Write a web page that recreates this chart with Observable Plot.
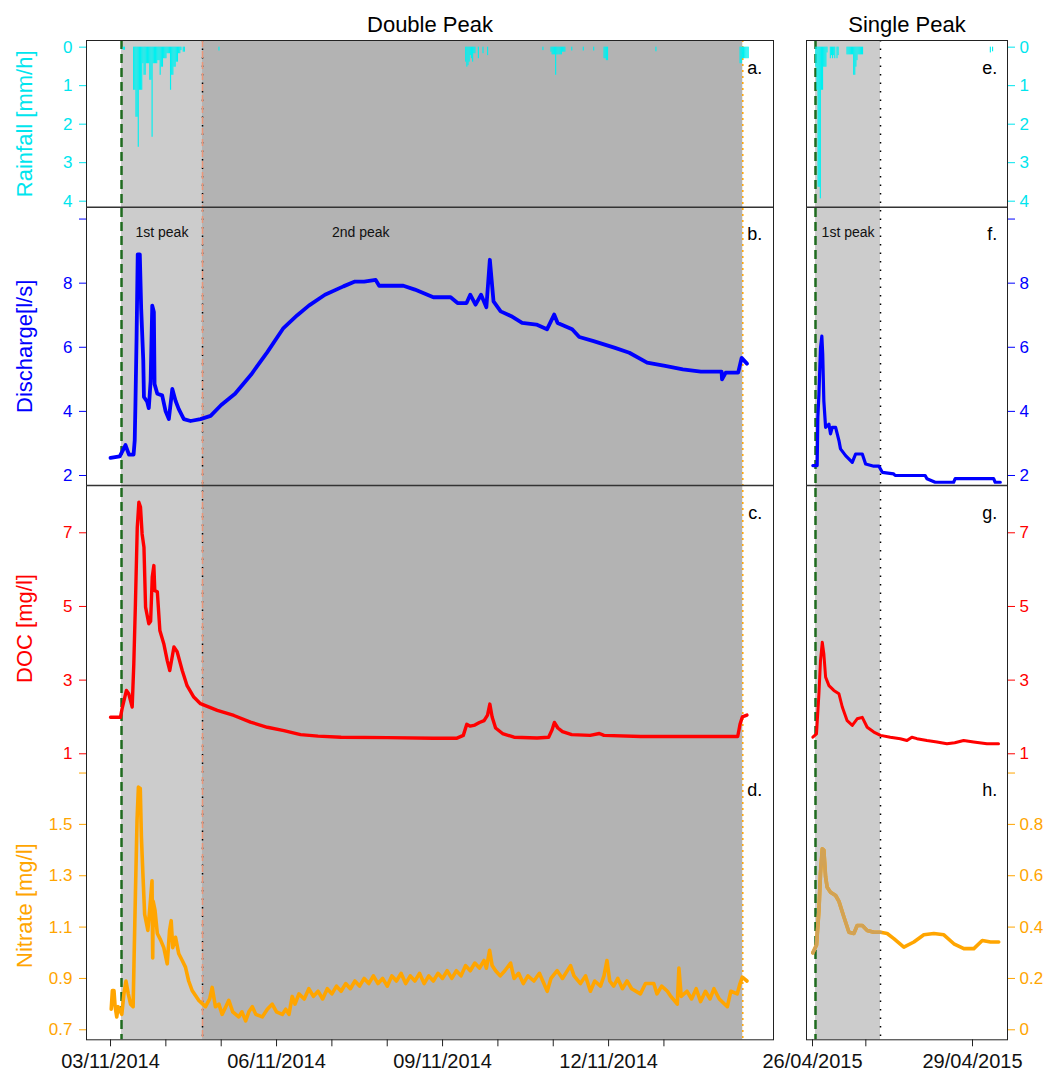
<!DOCTYPE html>
<html><head><meta charset="utf-8">
<script src="https://cdn.jsdelivr.net/npm/d3@7"></script>
<script src="https://cdn.jsdelivr.net/npm/@observablehq/plot@0.6"></script>
<style>
html,body{margin:0;padding:0;background:#fff;overflow:hidden;}
#chart{position:relative;width:1052px;height:1073px;}
#chart svg{position:absolute;left:0;top:0;}
</style></head><body><div id="chart"></div><script>
// ================= DATA =================
// times are hours since the start of each event
const dpStart = "2014-11-03T00:00:00Z";
const spStart = "2015-04-26T00:00:00Z";

// rainfall [mm/h], half-hour bins: [hour, value]
const dpRain = [[5.5,0.08],[6,0.08],
 [10,1.12],[10.5,1.12],[11,1.82],[11.5,1.82],[12,2.6],[12.5,1.12],[13,1.12],[13.5,1.12],[14,0.43],[14.5,0.73],
 [15,0.73],[15.5,0.43],[16,0.43],[16.5,0.43],[17,0.86],[17.5,0.86],[18,2.34],[18.5,0.43],[19,0.43],[19.5,0.43],
 [20,0.43],[20.5,0.35],[21,0.35],[21.5,0.73],[22,0.52],[22.5,0.52],[23,0.3],[23.5,0.3],[24,0.3],[24.5,0.17],
 [25,0.17],[25.5,0.17],[26,1.12],[26.5,0.73],[27,0.73],[27.5,0.52],[28,0.52],[28.5,0.39],[29,0.39],[29.5,0.17],
 [30,0.17],[30.5,0.09],[31.5,0.13],[32,0.13],[47,0.1],
 [154,0.39],[154.5,0.52],[155,0.48],[155.5,0.39],[156,0.22],[156.5,0.3],[157,0.39],[157.5,0.17],[158,0.17],
 [159.5,0.3],[161.5,0.17],[163.5,0.22],[187.5,0.09],
 [191,0.13],[191.5,0.2],[192,0.2],[192.5,0.2],[193,0.73],[193.5,0.2],[194,0.2],[194.5,0.2],[195,0.2],[195.5,0.2],
 [196,0.13],[196.5,0.13],[197,0.13],[200,0.1],[205,0.1],[209.5,0.1],[214,0.3],[214.5,0.3],[215,0.35],[215.5,0.35],
 [236.5,0.12],[273,0.43],[273.5,0.43],[274,0.3],[274.5,0.3],[275,0.3],[275.5,0.3],[276,0.3],[276.5,0.3]];
const spRain = [[1.5,0.52],[2,1.12],[2.5,3.64],[3,3.64],[3.5,3.94],[4,1.12],[4.5,1.12],[5,0.52],[5.5,0.52],[6,0.52],[6.5,0.15],
 [8,0.3],[8.5,0.22],[9,0.3],[9.5,0.22],[10,0.3],[11,0.3],[11.5,0.22],
 [15.5,0.2],[16,0.2],[16.5,0.2],[17,0.2],[17.5,0.2],[18,0.2],[18.5,0.73],[19,0.73],[19.5,0.52],[20,0.35],
 [20.5,0.2],[21,0.2],[21.5,0.2],[22,0.2],[22.5,0.2],[80,0.15],[81,0.12]];

// discharge [l/s]: [hour, value]
const dpDischarge = [[0,2.55],[4,2.6],[6.5,2.95],[8,2.65],[10,2.65],[10.5,3.1],[10.8,4.2],[11.3,6.3],[11.8,8.9],
 [12.7,8.9],[13.3,7.2],[14.2,5.6],[14.5,4.45],[15.9,4.3],[16.6,4.1],[17.4,4.95],[18.1,7.3],[18.8,7.1],[19.1,4.85],
 [20.3,4.55],[22.4,4.5],[23.9,4.0],[25.3,3.76],[26.8,4.7],[28.2,4.33],[29.6,4.07],[31.8,3.76],[34.7,3.7],[39,3.76],
 [43.4,3.86],[48,4.2],[54,4.55],[61,5.15],[68,5.85],[75,6.6],[81,7.0],[86,7.3],[93,7.64],[101,7.9],[106,8.05],
 [110,8.05],[115,8.1],[116.5,7.92],[127,7.92],[132,7.8],[140,7.56],[147.5,7.56],[150.5,7.38],[154.4,7.38],
 [156,7.64],[158.3,7.33],[160.7,7.64],[163,7.25],[164.5,8.73],[166.1,7.43],[169.2,7.12],[173.8,6.97],[178.5,6.76],
 [184.7,6.71],[189.3,6.56],[192.4,7.02],[193.9,6.76],[200.2,6.56],[203.3,6.32],[209.5,6.19],[218.8,5.98],
 [225,5.83],[232.7,5.52],[240.5,5.42],[248.2,5.31],[256,5.24],[265,5.24],[265.2,5.0],[266.8,5.21],[272.2,5.21],
 [273.7,5.67],[276,5.49]];
const spDischarge = [[0.15,2.31],[2.1,2.31],[2.4,3.81],[2.9,4.54],[3.6,5.98],[4.2,6.35],[4.6,5.78],[5.1,4.33],
 [5.9,3.5],[7.4,3.6],[8.1,3.3],[8.9,3.5],[10.4,3.5],[11.9,3.09],[12.6,2.83],[14.9,2.62],[17.9,2.41],[19.4,2.67],
 [22.4,2.67],[23.9,2.36],[27.6,2.29],[29.9,2.29],[31.4,2.1],[36.5,2.05],[37.2,2.0],[50.7,2.0],[51.5,1.9],
 [55.2,1.79],[63.5,1.79],[64.2,1.9],[81.5,1.9],[82.2,1.79],[84.5,1.79]];

// DOC [mg/l]
const dpDOC = [[0,1.99],[4.3,1.99],[5,2.22],[6.9,2.72],[7.9,2.63],[9.4,2.27],[10.1,3.44],[10.8,5.07],[11.6,7.15],
 [12.3,7.83],[13,7.7],[13.7,6.97],[14.5,6.61],[15.2,4.98],[16.6,4.53],[17.4,4.6],[18.1,5.8],[18.8,6.11],[19.2,5.43],
 [20.3,5.4],[21.4,4.35],[23.1,3.99],[24.6,3.53],[25.7,3.26],[27.5,3.9],[28.9,3.77],[31.1,3.26],[33.2,2.85],
 [36.1,2.54],[39,2.36],[46.3,2.18],[53.5,2.04],[60.7,1.86],[68,1.72],[75.2,1.63],[82.4,1.52],[90,1.48],[100,1.45],
 [120,1.44],[140,1.42],[150,1.42],[153,1.5],[154.5,1.8],[156,1.75],[158,1.78],[160,1.85],[162,1.9],[163.5,2.05],
 [164.5,2.35],[165.5,2.0],[167,1.7],[170,1.55],[175,1.45],[185,1.43],[190,1.45],[191.5,1.65],[192.5,1.85],
 [194,1.7],[196,1.6],[200,1.52],[208,1.5],[212,1.55],[214,1.5],[230,1.47],[250,1.47],[272,1.47],[273,1.8],
 [274,2.0],[276,2.05]];
const spDOC = [[0.15,1.45],[1.8,1.54],[2.9,2.63],[3.6,3.53],[4.4,4.03],[5.1,3.72],[5.9,3.08],[7.4,2.85],[9.6,2.72],
 [11.9,2.63],[13.4,2.27],[15.6,1.9],[17.9,1.77],[20.1,1.95],[22.4,1.99],[24.6,1.72],[27.6,1.59],[30.6,1.5],
 [35,1.45],[39.5,1.41],[42.5,1.36],[44.7,1.45],[47,1.41],[51.5,1.36],[56,1.32],[60.5,1.27],[64,1.3],[68,1.36],
 [72.5,1.32],[78.5,1.27],[83.7,1.27]];

// Nitrate [mg/l]
const dpNitrate = [[0.3,0.78],[0.8,0.853],[1.5,0.853],[2,0.79],[2.7,0.75],[3.3,0.79],[4.9,0.76],[5.8,0.84],
 [6.7,0.89],[7.7,0.84],[8.7,0.8],[9.8,0.79],[10.2,0.97],[10.8,1.23],[11.5,1.515],[12.1,1.645],[12.9,1.64],
 [13.4,1.45],[14.1,1.295],[14.8,1.15],[16.2,1.087],[17.1,1.18],[18,1.28],[18.3,0.98],[18.5,1.2],[19.3,1.165],
 [20.3,1.075],[21.7,1.05],[23.1,1.02],[24.6,0.957],[25.6,1.087],[26.3,1.125],[27,1.02],[28.2,1.06],[29.6,0.996],
 [31.1,0.97],[32.5,0.944],[33.9,0.89],[35.4,0.853],[38.3,0.814],[40,0.8],[41.2,0.79],[43,0.82],[44.1,0.865],
 [45.5,0.79],[47,0.8],[48.4,0.76],[50,0.79],[51.3,0.815],[53,0.77],[55.6,0.75],[57,0.77],[58.6,0.735],[60,0.77],
 [61.5,0.79],[63,0.76],[65.8,0.75],[68,0.78],[70.1,0.8],[72,0.77],[74.5,0.76],[76,0.78],[77.4,0.76],[78.8,0.83],
 [80,0.8],[81.7,0.84],[84,0.82],[86,0.86],[88,0.83],[90,0.85],[92,0.82],[94,0.86],[96,0.84],[98,0.87],[100,0.85],
 [102,0.88],[104,0.86],[106,0.89],[108,0.87],[110,0.9],[112,0.88],[114,0.91],[116,0.88],[118,0.9],[120,0.87],
 [122,0.91],[124,0.89],[126,0.92],[128,0.88],[130,0.91],[132,0.89],[134,0.92],[136,0.88],[138,0.91],[140,0.89],
 [142,0.92],[144,0.9],[146,0.93],[148,0.9],[150,0.93],[152,0.91],[154,0.95],[156,0.93],[158,0.96],[160,0.94],
 [162,0.97],[163,0.94],[164.4,1.01],[165.5,0.95],[167,0.93],[169,0.91],[171,0.93],[173.5,0.96],[175,0.9],
 [177,0.92],[179,0.88],[181,0.91],[183.6,0.89],[186,0.92],[189.4,0.85],[191,0.9],[193.7,0.93],[196,0.9],
 [199.5,0.95],[201,0.91],[203.8,0.88],[206,0.91],[208.1,0.85],[210,0.89],[212.5,0.87],[214,0.91],[215.3,0.97],
 [216.5,0.89],[218.2,0.87],[220,0.9],[222,0.86],[224,0.89],[226,0.86],[229.8,0.84],[232,0.88],[235.6,0.88],
 [237,0.84],[239,0.87],[241.5,0.85],[243,0.83],[245.8,0.8],[246.5,0.94],[247.5,0.83],[250,0.85],[252,0.82],
 [254,0.86],[255.9,0.81],[258,0.85],[260,0.82],[261.7,0.86],[264,0.82],[267.5,0.79],[269,0.85],[271.8,0.84],
 [273,0.88],[274,0.905],[276,0.89]];
const spNitrate = [[0.15,0.3],[1.8,0.33],[2.9,0.465],[3.6,0.61],[4.4,0.705],[5.1,0.7],[5.9,0.595],[6.6,0.555],
 [8.1,0.536],[10.4,0.523],[11.9,0.5],[14.1,0.44],[16.4,0.38],[18.6,0.375],[20.1,0.406],[22.4,0.406],[24.6,0.387],
 [27.6,0.38],[30.6,0.38],[33.6,0.375],[36.6,0.355],[41.1,0.322],[45.6,0.342],[50.1,0.37],[54.6,0.375],[59.1,0.37],
 [63.6,0.335],[68.1,0.316],[72.6,0.316],[76.4,0.348],[80.1,0.342],[83.8,0.342]];

// event boundaries (hours): rain start, end of 1st peak, end of 2nd peak
const dpEventHours = [4.77, 39.9, 274.2];
const spEventHours = [1.35, 30.6];
const dpPeakLabels = ["1st peak", "2nd peak"];
const dpPeakLabelHours = [22.3, 108.5];
const spPeakLabels = ["1st peak"];
const spPeakLabelHours = [16];

// axis ticks
const dpTickDays = ["2014-11-03","2014-11-04","2014-11-05","2014-11-06","2014-11-07","2014-11-08","2014-11-09",
 "2014-11-10","2014-11-11","2014-11-12","2014-11-13"];
const dpLabeledDays = ["2014-11-03","2014-11-06","2014-11-09","2014-11-12"];
const spTickDays = ["2015-04-26","2015-04-27","2015-04-29"];
const spLabeledDays = ["2015-04-26","2015-04-29"];
const rainTicks = [0,1,2,3,4];
const dischargeTicks = [2,4,6,8,10];
const dischargeTickLabels = [2,4,6,8];
const docTicks = [1,3,5,7];
const dpNitrateTicks = [0.7,0.9,1.1,1.3,1.5,1.7];
const dpNitrateTickLabels = [0.7,0.9,1.1,1.3,1.5];
const spNitrateTicks = [0,0.2,0.4,0.6,0.8,1.0];
const spNitrateTickLabels = [0,0.2,0.4,0.6,0.8];

// ================= DRAWING =================
const W = 1052, H = 1073;
const FONT = "'Liberation Sans', Arial, Helvetica, sans-serif";
const CYAN = "#00E5EE", BLUE = "#0000FF", RED = "#FF0000", ORANGE = "#FFA500", TAN = "#D2A254";
const rows = {a: [40, 206.7], b: [206.7, 485], c: [485, 771], d: [771, 1039.3]};
const yDomains = {
  rain: [4.156, -0.173], q: [1.688, 10.37], doc: [0.519, 8.284],
  no3dp: [0.661, 1.706], no3sp: [-0.039, 1.006]
};
const hourDate = (start, h) => new Date(Date.parse(start) + h * 3600e3);
const series = (start, arr) => arr.map(([h, v]) => ({h, t: hourDate(start, h), v}));
const bins = (start, arr) => arr.map(([h, v]) => ({t1: hourDate(start, h), t2: hourDate(start, h + 0.5), v}));
const dayDate = s => new Date(s + "T00:00:00Z");
const fmtDay = d3.utcFormat("%d/%m/%Y");

const root = document.getElementById("chart");
function add(plot) { root.appendChild(plot); }

function base(col, top, bottom, color, xDomain, yDomain, marks) {
  return Plot.plot({
    width: W, height: H,
    marginLeft: col.left, marginRight: W - col.right, marginTop: top, marginBottom: H - bottom,
    style: {background: "transparent", fontFamily: FONT, fontSize: "17px", color, overflow: "visible"},
    x: {type: "utc", domain: xDomain, axis: null},
    y: yDomain ? {domain: yDomain, axis: null} : undefined,
    marks
  });
}

function drawColumn(cfg) {
  const {col, start, xDays, side, events} = cfg;
  const xDomain = xDays.map(d => hourDate(start, d * 24));
  const ev = events.map(h => hourDate(start, h));
  const left = side === "left";
  const ydx = left ? -61.5 : 0;
  const letterDx = left ? -11.3 : -10.3;

  // background: shaded periods, event lines, frame, title
  const bgMarks = [
    Plot.rect([0], {x1: () => ev[0], x2: () => ev[1], fill: "#cccccc"}),
  ];
  if (ev.length > 2) bgMarks.push(Plot.rect([0], {x1: () => ev[1], x2: () => ev[2], fill: "#b3b3b3"}));
  bgMarks.push(Plot.ruleX([ev[1]], {stroke: "#000", strokeWidth: 1.5, strokeDasharray: "1.5,7"}));
  if (ev.length > 2) {
    bgMarks.push(Plot.ruleX([ev[1]], {stroke: "#E9967A", strokeWidth: 1.5, strokeDasharray: "7,4"}));
    bgMarks.push(Plot.ruleX([ev[2]], {stroke: ORANGE, strokeWidth: 1.5, strokeDasharray: "2,4"}));
  }
  bgMarks.push(Plot.ruleX([ev[0]], {stroke: "#1E6B1E", strokeWidth: 2.5, strokeDasharray: "9,5"}));
  bgMarks.push(Plot.frame({stroke: "#222", strokeWidth: 1}));
  bgMarks.push(Plot.text([cfg.title], {text: d => d, frameAnchor: "top", dy: -8.3, lineAnchor: "bottom", fontSize: 22, fill: "black"}));
  add(base(col, rows.a[0], rows.d[1], "black", xDomain, null, bgMarks));

  const yAxis = (ticks, labels, extra = {}) => Plot.axisY({
    anchor: side, ticks, tickSize: 7, tickPadding: left ? 7 : 5, label: null,
    tickFormat: d => (labels.includes(d) ? String(d) : ""), ...extra
  });
  const yLabel = (text) => left ? [Plot.text([text], {text: d => d, frameAnchor: "left", dx: ydx, rotate: -90,
    textAnchor: "middle", lineAnchor: "middle", fontSize: 22})] : [];
  const letter = (t, dy) => Plot.text([t], {text: d => d, frameAnchor: "top-right", dx: letterDx, dy,
    textAnchor: "end", lineAnchor: "bottom", fontSize: 18, fill: "black"});
  const sep = (dom) => Plot.ruleY([dom[0]], {stroke: "#333", strokeWidth: 1.5});

  // a / e : rainfall
  add(base(col, rows.a[0], rows.a[1], CYAN, xDomain, yDomains.rain, [
    Plot.rect(bins(start, cfg.rain), {x1: "t1", x2: "t2", y1: () => 0, y2: "v", fill: "#00F0F0"}),
    sep(yDomains.rain),
    yAxis(rainTicks, rainTicks),
    ...yLabel("Rainfall [mm/h]"),
    letter(cfg.letters[0], 33)
  ]));

  // b / f : discharge
  add(base(col, rows.b[0], rows.b[1], BLUE, xDomain, yDomains.q, [
    Plot.line(series(start, cfg.q), {x: "t", y: "v", stroke: BLUE, strokeWidth: left ? 3.8 : 3.2, strokeLinejoin: "round"}),
    sep(yDomains.q),
    yAxis(dischargeTicks, dischargeTickLabels),
    ...yLabel("Discharge[l/s]"),
    letter(cfg.letters[1], 32.3),
    Plot.text(cfg.peakLabels.map((s, i) => ({s, t: hourDate(start, cfg.peakHours[i])})),
      {x: "t", text: "s", frameAnchor: "top", dy: 30, lineAnchor: "bottom", fontSize: 14, fill: "#111"})
  ]));

  // c / g : DOC
  add(base(col, rows.c[0], rows.c[1], RED, xDomain, yDomains.doc, [
    Plot.line(series(start, cfg.doc), {x: "t", y: "v", stroke: RED, strokeWidth: left ? 3.4 : 3, strokeLinejoin: "round"}),
    yAxis(docTicks, docTicks),
    ...yLabel("DOC [mg/l]"),
    letter(cfg.letters[2], 33)
  ]));

  // d / h : nitrate
  const no3 = series(start, cfg.no3);
  const no3Marks = [
    Plot.line(no3, {x: "t", y: "v", stroke: ORANGE, strokeWidth: 3.6, strokeLinejoin: "round"})
  ];
  if (!left) no3Marks.push(Plot.line(no3.filter(d => d.h <= events[1]),
    {x: "t", y: "v", stroke: TAN, strokeWidth: 3.6, strokeLinejoin: "round"}));
  const dayTicks = cfg.tickDays.map(dayDate);
  const labeled = new Set(cfg.labeledDays.map(s => +dayDate(s)));
  no3Marks.push(
    yAxis(cfg.no3Ticks, cfg.no3TickLabels),
    Plot.axisX({anchor: "bottom", ticks: dayTicks, tickSize: 7, tickPadding: 7, fontSize: 20, label: null,
      stroke: "#222", fill: "#111", tickFormat: d => (labeled.has(+d) ? fmtDay(d) : "")}),
    ...yLabel("Nitrate [mg/l]"),
    letter(cfg.letters[3], 24)
  );
  add(base(col, rows.d[0], rows.d[1], ORANGE, xDomain, left ? yDomains.no3dp : yDomains.no3sp, no3Marks));
}

drawColumn({
  col: {left: 86, right: 773}, start: dpStart, xDays: [-0.434, 11.98], side: "left", events: dpEventHours,
  title: "Double Peak", rain: dpRain, q: dpDischarge, doc: dpDOC, no3: dpNitrate,
  letters: ["a.", "b.", "c.", "d."], peakLabels: dpPeakLabels, peakHours: dpPeakLabelHours,
  tickDays: dpTickDays, labeledDays: dpLabeledDays, no3Ticks: dpNitrateTicks, no3TickLabels: dpNitrateTickLabels
});
drawColumn({
  col: {left: 806, right: 1007}, start: spStart, xDays: [-0.1125, 3.656], side: "right", events: spEventHours,
  title: "Single Peak", rain: spRain, q: spDischarge, doc: spDOC, no3: spNitrate,
  letters: ["e.", "f.", "g.", "h."], peakLabels: spPeakLabels, peakHours: spPeakLabelHours,
  tickDays: spTickDays, labeledDays: spLabeledDays, no3Ticks: spNitrateTicks, no3TickLabels: spNitrateTickLabels
});
</script></body></html>
